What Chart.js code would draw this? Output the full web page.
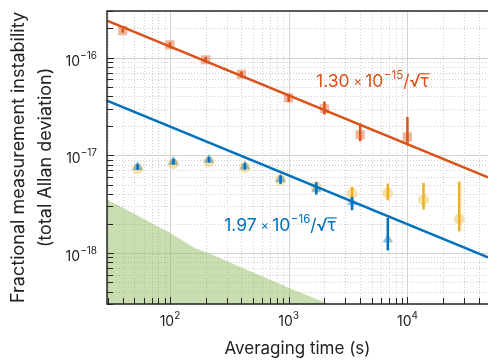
<!DOCTYPE html>
<html>
<head>
<meta charset="utf-8">
<script src="https://cdn.jsdelivr.net/npm/chart.js@4.4.1/dist/chart.umd.min.js"></script>
<style>
  html, body { margin: 0; padding: 0; background: #fff; }
  #wrap { width: 488px; height: 360px; }
</style>
</head>
<body>
<div id="wrap"><canvas id="allanChart" width="488" height="360"></canvas></div>
<script>
// averaging times (s) and allan deviations
const tauOrange = [40, 100, 200, 400, 1000, 2000, 4000, 10000];
const sigOrange = [1.89e-16, 1.35e-16, 9.5e-17, 6.75e-17, 3.87e-17, 3.0e-17, 1.62e-17, 1.54e-17];
const orangeLo  = [1.80e-16, 1.27e-16, 8.9e-17, 6.3e-17, 3.52e-17, 2.61e-17, 1.39e-17, 1.26e-17];
const orangeHi  = [1.98e-16, 1.43e-16, 1.01e-16, 7.2e-17, 4.25e-17, 3.55e-17, 2.11e-17, 2.47e-17];

const tauBlue = [53.4, 107, 213, 427, 854, 1708, 3416, 6832];
const sigBlue = [7.6e-18, 8.6e-18, 9.0e-18, 7.7e-18, 5.7e-18, 4.5e-18, 3.3e-18, 1.37e-18];
const blueLo  = [7.1e-18, 8.0e-18, 8.4e-18, 7.1e-18, 5.1e-18, 3.96e-18, 2.74e-18, 1.06e-18];
const blueHi  = [8.1e-18, 9.2e-18, 9.6e-18, 8.3e-18, 6.2e-18, 5.3e-18, 3.75e-18, 2.29e-18];

const tauYellow = [53.4, 107, 213, 427, 854, 1708, 3416, 6832, 13664, 27328];
const sigYellow = [7.3e-18, 8.2e-18, 8.6e-18, 7.5e-18, 5.6e-18, 4.8e-18, 4.1e-18, 4.1e-18, 3.5e-18, 2.23e-18];
const yellowLo  = [null, null, null, null, null, null, 3.58e-18, 3.46e-18, 2.78e-18, 1.66e-18];
const yellowHi  = [null, null, null, null, null, null, 4.75e-18, 5.13e-18, 5.21e-18, 5.38e-18];

// shaded floor (green)
const tauFloor = [29.5, 100, 163, 200, 1000, 2020, 3000];
const sigFloor = [3.52e-18, 1.61e-18, 1.12e-18, 1.02e-18, 4.4e-19, 3.1e-19, 2.57e-19];

// fitted 1/sqrt(tau) lines, end points at the axis limits
const tauFit = [29.5, 47700];
const fitOrange = [2.39e-16, 5.95e-18];
const fitBlue = [3.63e-17, 9.02e-19];

const xTicks = [1e2, 1e3, 1e4];
const yTicks = [1e-16, 1e-17, 1e-18];

const ORANGE = '#d95319', BLUE = '#0072bd', YELLOW = '#edb120';
const FONT = 'Inter';

const pts = (xs, ys) => xs.map((x, i) => ({ x: x, y: ys[i] }));

function logSteps(min, max) {
    const out = [];
    for (let e = Math.floor(Math.log10(min)); e <= Math.ceil(Math.log10(max)); e++) {
        for (let k = 1; k <= 9; k++) {
            const v = k * Math.pow(10, e);
            if (v >= min && v <= max) out.push({ v: v, major: k === 1 });
        }
    }
    return out;
}

const gridPlugin = {
    id: 'gridPlugin',
    beforeDatasetsDraw(chart) {
        const { ctx, chartArea: a, scales: { x, y } } = chart;
        ctx.save();
        ctx.lineWidth = 1;
        logSteps(x.min, x.max).forEach(t => {
            const px = Math.round(x.getPixelForValue(t.v)) + 0.5;
            ctx.strokeStyle = t.major ? '#d4d4d4' : '#cdcdcd';
            ctx.setLineDash(t.major ? [] : [1, 2]);
            ctx.beginPath(); ctx.moveTo(px, a.top); ctx.lineTo(px, a.bottom); ctx.stroke();
        });
        logSteps(y.min, y.max).forEach(t => {
            const py = Math.round(y.getPixelForValue(t.v)) + 0.5;
            ctx.strokeStyle = t.major ? '#d4d4d4' : '#cdcdcd';
            ctx.setLineDash(t.major ? [] : [1, 2]);
            ctx.beginPath(); ctx.moveTo(a.left, py); ctx.lineTo(a.right, py); ctx.stroke();
        });
        ctx.restore();
    }
};

const errorSets = [
    { tau: tauYellow, lo: yellowLo, hi: yellowHi, color: YELLOW },
    { tau: tauOrange, lo: orangeLo, hi: orangeHi, color: ORANGE },
    { tau: tauBlue, lo: blueLo, hi: blueHi, color: BLUE }
];

function drawFormula(ctx, x0, y0, mant, exp, color) {
    ctx.fillStyle = color;
    ctx.strokeStyle = color;
    ctx.textAlign = 'left';
    ctx.textBaseline = 'alphabetic';
    let x = x0;
    ctx.font = '17.5px ' + FONT;
    ctx.fillText(mant, x, y0); x += ctx.measureText(mant).width + 4;
    ctx.font = '13px ' + FONT;
    ctx.fillText('\u00d7', x, y0 - 1); x += ctx.measureText('\u00d7').width + 3;
    ctx.font = '17.5px ' + FONT;
    ctx.fillText('10', x, y0); x += ctx.measureText('10').width + 0.5;
    ctx.font = '11.5px ' + FONT;
    ctx.fillText('\u2212' + exp, x, y0 - 8); x += ctx.measureText('\u2212' + exp).width;
    ctx.font = '17.5px ' + FONT;
    ctx.fillText('/\u221a', x, y0); x += ctx.measureText('/\u221a').width;
    const wt = ctx.measureText('\u03c4').width;
    ctx.fillText('\u03c4', x, y0);
    ctx.lineWidth = 1.2;
    ctx.beginPath(); ctx.moveTo(x - 1, y0 - 12.8); ctx.lineTo(x + wt + 1, y0 - 12.8); ctx.stroke();
}

const overlayPlugin = {
    id: 'overlayPlugin',
    afterDatasetsDraw(chart) {
        const { ctx, chartArea: a, scales: { x, y } } = chart;
        ctx.save();
        // error bars
        ctx.beginPath(); ctx.rect(a.left, a.top, a.right - a.left, a.bottom - a.top); ctx.clip();
        ctx.lineWidth = 2.5;
        errorSets.forEach(s => {
            ctx.strokeStyle = s.color;
            s.tau.forEach((t, i) => {
                if (s.lo[i] == null) return;
                const px = x.getPixelForValue(t);
                ctx.beginPath();
                ctx.moveTo(px, y.getPixelForValue(s.hi[i]));
                ctx.lineTo(px, y.getPixelForValue(s.lo[i]));
                ctx.stroke();
            });
        });
        // fit labels
        drawFormula(ctx, x.getPixelForValue(1700), y.getPixelForValue(5.05e-17), '1.30', '15', ORANGE);
        drawFormula(ctx, x.getPixelForValue(286), y.getPixelForValue(1.69e-18), '1.97', '16', BLUE);
        ctx.restore();

        // frame and inward ticks
        ctx.save();
        ctx.strokeStyle = '#262626';
        ctx.lineWidth = 1.5;
        ctx.beginPath();
        ctx.moveTo(a.right, a.top); ctx.lineTo(a.left, a.top);
        ctx.lineTo(a.left, a.bottom); ctx.lineTo(a.right, a.bottom);
        ctx.stroke();
        ctx.lineWidth = 1;
        logSteps(x.min, x.max).forEach(t => {
            const px = Math.round(x.getPixelForValue(t.v)) + 0.5;
            ctx.beginPath(); ctx.moveTo(px, a.bottom); ctx.lineTo(px, a.bottom - (t.major ? 7 : 6)); ctx.stroke();
        });
        logSteps(y.min, y.max).forEach(t => {
            const py = Math.round(y.getPixelForValue(t.v)) + 0.5;
            ctx.beginPath(); ctx.moveTo(a.left, py); ctx.lineTo(a.left + (t.major ? 7 : 6), py); ctx.stroke();
        });

        // tick labels with superscripts
        ctx.fillStyle = '#222';
        ctx.textBaseline = 'alphabetic';
        yTicks.forEach(v => {
            const py = y.getPixelForValue(v);
            const exp = '\u2212' + Math.round(-Math.log10(v));
            ctx.textAlign = 'right';
            ctx.font = '10px ' + FONT;
            const we = ctx.measureText(exp).width;
            ctx.fillText(exp, a.left - 10, py + 1);
            ctx.font = '14px ' + FONT;
            ctx.fillText('10', a.left - 10 - we, py + 8);
        });
        xTicks.forEach(v => {
            const px = x.getPixelForValue(v);
            const exp = String(Math.round(Math.log10(v)));
            ctx.font = '14px ' + FONT;
            const wb = ctx.measureText('10').width;
            ctx.font = '10px ' + FONT;
            const we = ctx.measureText(exp).width;
            const x0 = px - (wb + we) / 2;
            ctx.textAlign = 'left';
            ctx.fillText(exp, x0 + wb, a.bottom + 15);
            ctx.font = '14px ' + FONT;
            ctx.fillText('10', x0, a.bottom + 22);
        });
        ctx.restore();
    }
};

const ctx = document.getElementById('allanChart').getContext('2d');
const allanChart = new Chart(ctx, {
    type: 'scatter',
    data: {
        datasets: [{
            data: pts(tauFit, fitOrange),
            showLine: true, borderColor: ORANGE, borderWidth: 2.5, pointRadius: 0, order: 1
        }, {
            data: pts(tauFit, fitBlue),
            showLine: true, borderColor: BLUE, borderWidth: 2.5, pointRadius: 0, order: 1
        }, {
            data: pts(tauOrange, sigOrange),
            pointStyle: 'rect', pointRadius: 6.5, borderWidth: 0,
            backgroundColor: 'rgba(217,83,25,0.42)', order: 2
        }, {
            data: pts(tauBlue, sigBlue),
            pointStyle: 'triangle', pointRadius: 6, borderWidth: 0,
            backgroundColor: 'rgba(0,114,189,0.42)', order: 3
        }, {
            data: pts(tauYellow, sigYellow),
            pointStyle: 'circle', pointRadius: 5.5, borderWidth: 0,
            backgroundColor: 'rgba(237,177,32,0.38)', order: 4
        }, {
            data: pts(tauFloor, sigFloor),
            showLine: true, fill: 'start', borderWidth: 0, pointRadius: 0,
            borderColor: 'rgba(0,0,0,0)', backgroundColor: 'rgba(140,185,90,0.48)', order: 9
        }]
    },
    options: {
        responsive: false,
        animation: false,
        events: [],
        layout: { autoPadding: false, padding: { top: 11, right: 0, left: 0, bottom: 0 } },
        plugins: { legend: { display: false }, tooltip: { enabled: false } },
        scales: {
            x: {
                type: 'logarithmic', min: 29.5, max: 47700,
                grid: { display: false }, border: { display: false }, ticks: { display: false },
                title: { display: true, text: 'Averaging time (s)', color: '#222',
                         font: { family: FONT, size: 17 }, padding: { top: 0, bottom: 1 } },
                afterFit(s) { s.height = 56; }
            },
            y: {
                type: 'logarithmic', min: 3.0e-19, max: 3.0e-16,
                grid: { display: false }, border: { display: false }, ticks: { display: false },
                title: { display: true, text: ['Fractional measurement instability', '(total Allan deviation)'],
                         color: '#222', font: { family: FONT, size: 18, lineHeight: 1.5 }, padding: { top: 5, bottom: 0 } },
                afterFit(s) { s.width = 107; }
            }
        }
    },
    plugins: [gridPlugin, overlayPlugin]
});
</script>
</body>
</html>
